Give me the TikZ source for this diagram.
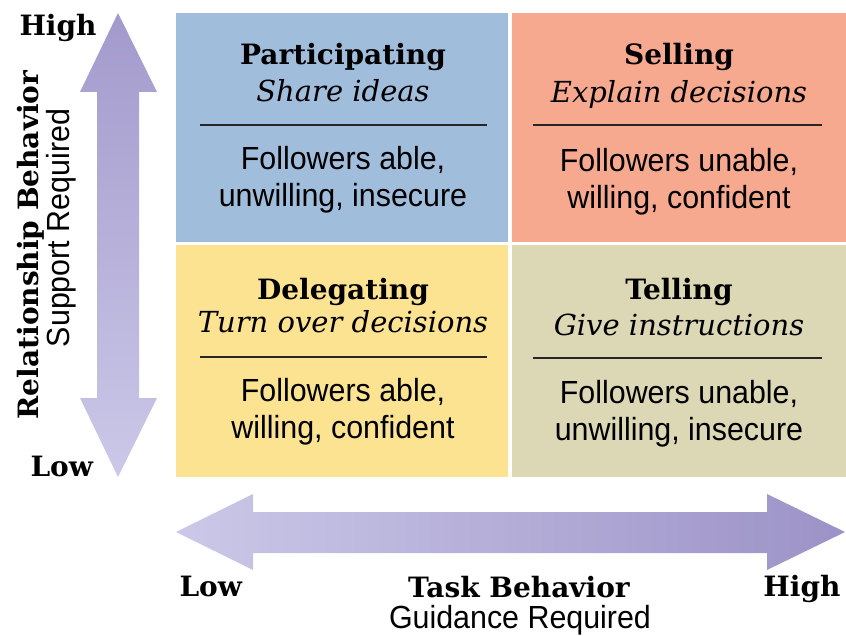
\documentclass[tikz,border=0pt]{standalone}
\usepackage{fontspec}
\setmainfont{DejaVu Serif}
\setsansfont[FakeStretch=0.95]{Liberation Sans}
\definecolor{partblue}{HTML}{A1BDDC}
\definecolor{sellred}{HTML}{F6A98F}
\definecolor{deleyellow}{HTML}{FCE391}
\definecolor{tellkhaki}{HTML}{DCD7B5}
\definecolor{arrowlight}{HTML}{CBC8E8}
\definecolor{arrowdark}{HTML}{9C92C7}
\tikzset{
  ttl/.style={anchor=base, font=\bfseries\fontsize{28}{30}\selectfont},
  subttl/.style={anchor=base, font=\itshape\fontsize{29}{30}\selectfont},
  body/.style={anchor=base, align=center, font=\sffamily\fontsize{32}{37}\selectfont},
  axis/.style={anchor=base, font=\bfseries\fontsize{28}{30}\selectfont},
  axissub/.style={anchor=base, font=\sffamily\fontsize{32}{34}\selectfont},
  sepline/.style={line width=1.6pt, black!85}
}
\begin{document}
\begin{tikzpicture}[x=1pt, y=-1pt]
\useasboundingbox (0,0) rectangle (846,636);

% the four quadrants
\fill[partblue] (176,13) rectangle (508,242);
\fill[sellred] (512,13) rectangle (846,242);
\fill[deleyellow] (176,245) rectangle (508,477);
\fill[tellkhaki] (512,245) rectangle (846,477);

% arrows
\shade[top color=arrowdark!85!arrowlight, bottom color=arrowlight]
  (118,13) -- (157,92) -- (139,92) -- (139,398) -- (157,398) -- (118,477)
  -- (80,398) -- (97,398) -- (97,92) -- (80,92) -- cycle;
\shade[left color=arrowlight, right color=arrowdark]
  (176,532) -- (253,494) -- (253,512) -- (767,512) -- (767,494) -- (845,532)
  -- (767,570) -- (767,553) -- (253,553) -- (253,570) -- cycle;

% Participating
\node[ttl] (partT) at (343,65) {Participating};
\node[subttl] (partS) at (343,102) {Share ideas};
\draw[sepline] (200,125) -- (487,125);
\node[body] (partB) at (343,207) {Followers able,\\unwilling, insecure};

% Selling
\node[ttl] (sellT) at (679,65) {Selling};
\node[subttl] (sellS) at (679,103) {Explain decisions};
\draw[sepline] (533,125) -- (822,125);
\node[body] (sellB) at (679,209) {Followers unable,\\willing, confident};

% Delegating
\node[ttl] (deleT) at (343,300) {Delegating};
\node[subttl] (deleS) at (343,333) {Turn over decisions};
\draw[sepline] (200,357) -- (487,357);
\node[body] (deleB) at (343,438) {Followers able,\\willing, confident};

% Telling
\node[ttl] (tellT) at (679,300) {Telling};
\node[subttl] (tellS) at (679,335) {Give instructions};
\draw[sepline] (533,358) -- (822,358);
\node[body] (tellB) at (679,440) {Followers unable,\\unwilling, insecure};

% axis labels
\node[axis, anchor=base west] (yHigh) at (16,36) {High};
\node[axis, anchor=base west] (yLow) at (27,476) {Low};
\node[axis, rotate=90] (yLab) at (38,245) {Relationship Behavior};
\node[axissub, rotate=90] (ySub) at (69,228) {Support Required};

\node[axis, anchor=base west] (xLow) at (176,596) {Low};
\node[axis, anchor=base east] (xHigh) at (844,596) {High};
\node[axis] (xLab) at (519,597) {Task Behavior};
\node[axissub] (xSub) at (520,628) {Guidance Required};

\end{tikzpicture}
\end{document}
